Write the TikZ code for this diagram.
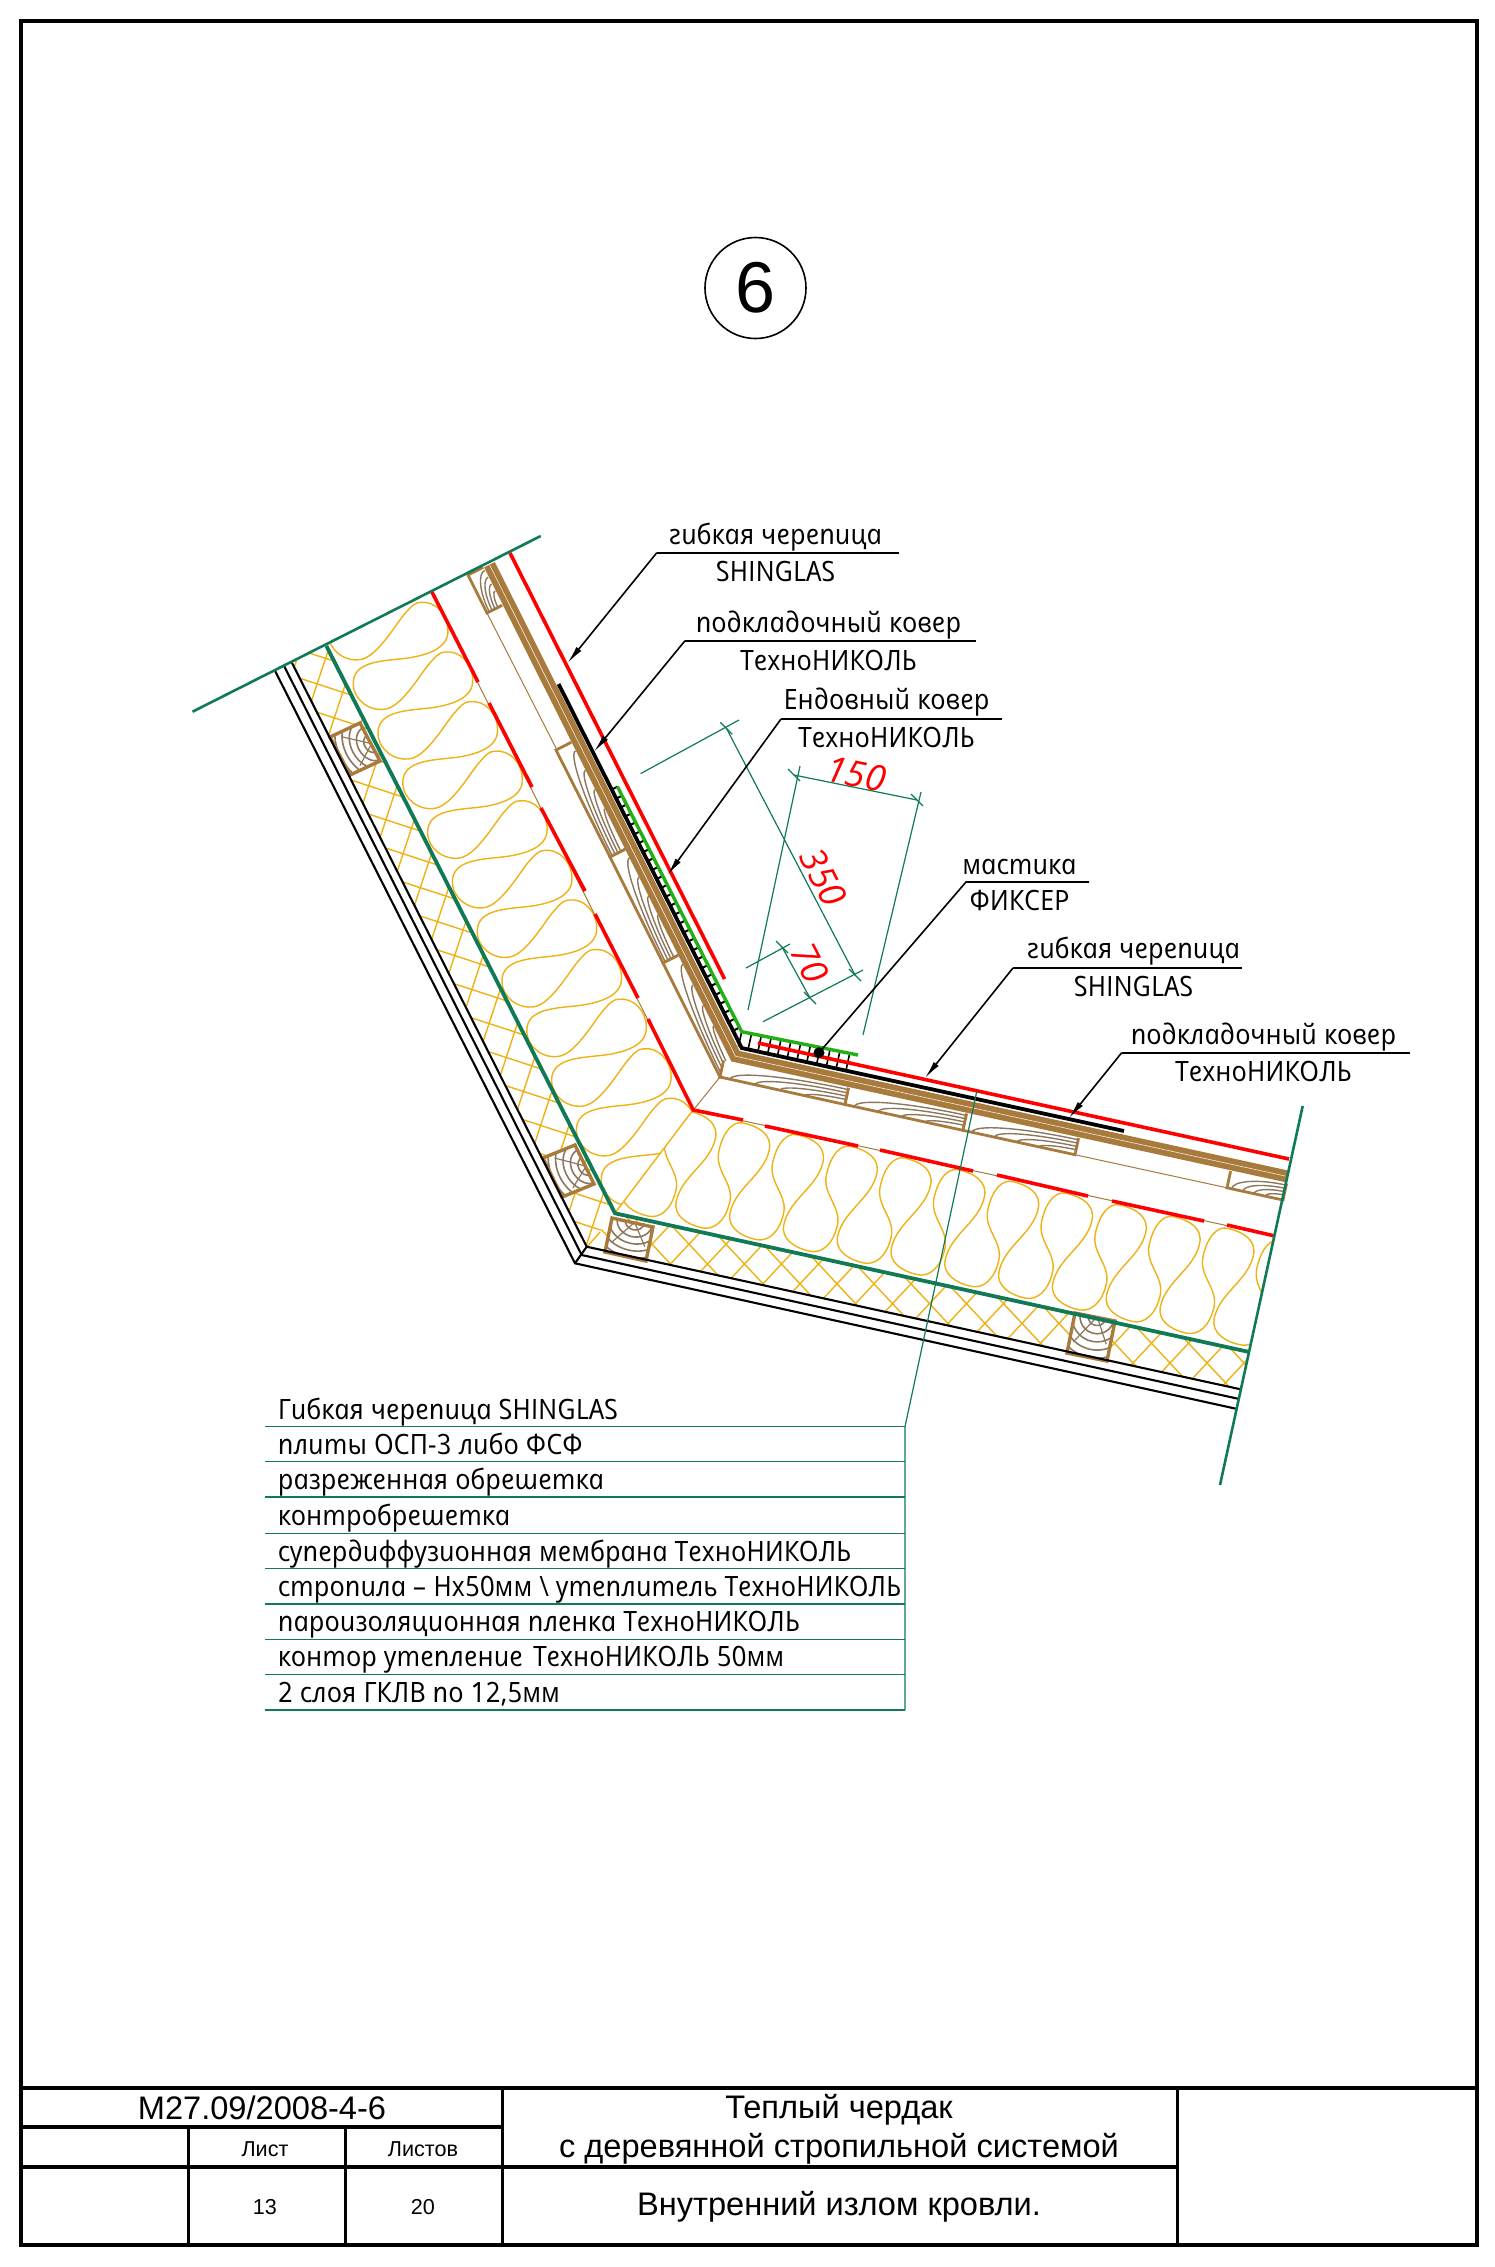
\documentclass[tikz,border=0pt]{standalone}
\usepackage{fontspec}
\setmainfont{Liberation Sans}
\newfontfamily\techbase{Open Sans}[ItalicFeatures={FakeSlant=-0.2,FakeStretch=0.97}]
\newcommand{\tech}{\techbase\itshape}
\newfontfamily\dimfont{Open Sans}
\usetikzlibrary{arrows.meta,calc}
\definecolor{cteal}{RGB}{15,122,85}
\definecolor{cred}{RGB}{255,0,0}
\definecolor{cgreen}{RGB}{34,176,20}
\definecolor{cbrown}{RGB}{168,122,60}
\definecolor{cgrain}{RGB}{140,120,95}
\definecolor{cyel}{RGB}{238,178,20}
\tikzset{
  frameline/.style={line width=1.8pt,black},
  titlerule/.style={line width=2pt,black},
  titlecol/.style={line width=1.5pt,black},
  tealthick/.style={line width=1.9pt,cteal},
  cutline/.style={line width=1.3pt,cteal},
  thinteal/.style={line width=0.6pt,cteal},
  shelfteal/.style={line width=0.7pt,cteal},
  redlayer/.style={line width=1.8pt,cred},
  blacklayer/.style={line width=1.9pt,black},
  gkl/.style={line width=1.05pt,black},
  woolline/.style={line width=0.7pt,cyel},
  hatchline/.style={line width=0.7pt,cyel},
  lath/.style={line width=0.5pt,cbrown},
  woodout/.style={line width=1.4pt,cbrown,fill=white},
  grainline/.style={line width=0.7pt,cgrain},
  leaderarrow/.style={line width=0.8pt,black,-{Latex[length=9pt,width=3.2pt]}},
  shelf/.style={line width=0.8pt,black},
  techtext/.style={font=\tech\fontsize{14}{16}\selectfont,inner sep=0pt},
  listtext/.style={techtext,anchor=base west},
  dimtext/.style={font=\dimfont\itshape\fontsize{18}{20}\selectfont,text=cred,inner sep=0pt},
  titletext/.style={font=\fontsize{16.3}{18}\selectfont,inner sep=0pt},
  smalltext/.style={font=\fontsize{10.8}{12}\selectfont,inner sep=0pt},
}
\newcommand{\battenU}[6]{%
\begin{scope}[shift={(#1,#2)},x={({(#3-#1)*0.5pt},{(#2-#4)*0.5pt})},y={({(#5)*0.5pt},{-(#6)*0.5pt})}]
\draw[woodout] (0,1)--(0,0)--(1,0)--(1,1);
\foreach \r/\q in {.92/.85,.74/.66,.56/.47,.38/.28}
 \draw[grainline] (1-\r,1) .. controls (1-\r,1-.55*\q) and (1-.55*\r,1-\q) .. (1,1-\q);
\end{scope}}
\newcommand{\battenL}[6]{%
\begin{scope}[shift={(#1,#2)},x={({(#3-#1)*0.5pt},{(#2-#4)*0.5pt})},y={({(#5)*0.5pt},{-(#6)*0.5pt})}]
\draw[woodout] (0,1)--(0,0)--(1,0)--(1,1);
\foreach \r/\q in {.92/.9,.72/.7,.52/.5,.32/.3}
 \draw[grainline] (1-\r,0) .. controls (1-\r,.55*\q) and (1-.55*\r,\q) .. (1,\q);
\end{scope}}
\newcommand{\woodblock}[6]{%
\begin{scope}[shift={(#1,#2)},x={({(#3)*0.5pt},{-(#4)*0.5pt})},y={({(#5)*0.5pt},{-(#6)*0.5pt})}]
\fill[white] (0,0)--(1,0)--(1,1)--(0,1)--cycle;
\begin{scope}
\clip (0,0)--(1,0)--(1,1)--(0,1)--cycle;
\foreach \r in {.22,.42,.62,.82,1.02} \draw[grainline,line width=.8pt] (.55,1.02) circle[radius=\r];
\draw[grainline,line width=.6pt] (.55,1.02)--(.1,.3) (.55,1.02)--(.9,.4);
\end{scope}
\draw[line width=1.7pt,cbrown] (0,0)--(1,0)--(1,1)--(0,1)--cycle;
\end{scope}}
\newcommand{\wool}[2]{%
\foreach \k in {#1,...,#2}{
\draw[woolline] (\k,1) .. controls (\k+.32,1) and (\k+.57,.95) .. (\k+.57,.82)
 .. controls (\k+.57,.6) and (\k+.117,.45) .. (\k+.117,.225)
 .. controls (\k+.117,.1) and (\k+.4,.05) .. (\k+.68,.05)
 .. controls (\k+.9,.05) and (\k+1.07,.15) .. (\k+1.07,.32)
 .. controls (\k+1.07,.48) and (\k+.68,.55) .. (\k+.68,.72)
 .. controls (\k+.68,.9) and (\k+.82,1) .. (\k+1,1);
}}
\begin{document}
\begin{tikzpicture}[x=0.5pt,y=-0.5pt]
\useasboundingbox (0,0) rectangle (1495,2267);
\fill[white] (0,0) rectangle (1495,2267);

% ---------- insulation wool, upper slope
\begin{scope}
\clip (432,592)--(693,1110)--(615,1213)--(326,646)--cycle;
\foreach \k in {-3,...,10}{
\begin{scope}[shift={({447.9+24.8*\k},{630+49.6*\k})}]
\draw[woolline] (0,0) .. controls (1,18) and (-20,25) .. (-40,28)
 .. controls (-62,31) and (-94.7,30) .. (-94.7,53.3)
 .. controls (-94.7,70) and (-78,82) .. (-62,79)
 .. controls (-45,76) and (-25,40) .. (-18,33)
 .. controls (-12,26) and (-8,22) .. (-3,22)
 .. controls (12,20) and (24.8,34) .. (24.8,49.6);
\end{scope}}
\end{scope}
% ---------- insulation wool, lower slope
\begin{scope}
\clip (693,1110)--(1275,1236)--(1248,1352)--(615,1213)--cycle;
\begin{scope}[shift={(718.1,1237.3)},x={(26.9pt,-5.85pt)},y={(12.45pt,57.15pt)}]
\wool{-2}{11}
\end{scope}
\end{scope}
\draw[woolline] (693,1110)--(615,1213);

% ---------- cross hatch
\begin{scope}
\clip (291,662)--(326,646)--(615,1213)--(587,1247)--cycle;
\foreach \i in {-2,...,26}
 \draw[hatchline] ({296-8.4*\i-600},{677+25.6*\i-196})--({296-8.4*\i+600},{677+25.6*\i+196});
\foreach \j in {-16,...,16}
 \draw[hatchline] ({325+25.6*\j+250},{660+8.4*\j-760})--({325+25.6*\j-250},{660+8.4*\j+760});
\end{scope}
\begin{scope}
\clip (587,1247)--(615,1213)--(1248,1352)--(1241,1389)--cycle;
\foreach \i in {-19,...,4}{
 \draw[hatchline] ({1170+37*\i-170},{1363-182})--({1170+37*\i+170},{1363+182});
 \draw[hatchline] ({1170+37*\i-170},{1363+182})--({1170+37*\i+170},{1363-182});
}
\end{scope}
\draw[hatchline] (587,1247)--(600,1232);

% ---------- cross-section blocks
\woodblock{330}{737}{20}{38}{30}{-14}
\woodblock{543}{1158}{19}{39}{32}{-13}
\woodblock{605}{1252}{41}{9}{7}{-34}
\woodblock{1067}{1353}{40}{8}{8}{-40}

% ---------- gypsum boards
\draw[gkl] (291.4,661.7)--(586.7,1246.7)--(1240.7,1389.3);
\draw[gkl] (283.6,665)--(581.7,1255)--(1238,1398.7);
\draw[gkl] (274.6,670)--(575,1263.3)--(1236,1408.7);
\draw[gkl] (586.7,1246.7)--(575,1263.3);

% ---------- vapour barrier
\draw[tealthick] (326.4,646)--(615,1213.3)--(1248,1351.7);

% ---------- diffusion membrane
\draw[lath] (431.8,591.7)--(693.3,1110)--(1275,1236);
\draw[lath] (693.3,1110)--(720,1077);
\draw[redlayer] (431.8,591.7)--(478,682);
\draw[redlayer] (489,703)--(532,787);
\draw[redlayer] (541,808)--(585,891);
\draw[redlayer] (595,914)--(638,998);
\draw[redlayer,line join=miter] (648,1019)--(693.3,1110)--(743,1120);
\draw[redlayer] (765,1126)--(858,1146);
\draw[redlayer] (880,1150)--(973,1171);
\draw[redlayer] (997,1175)--(1088,1196);
\draw[redlayer] (1112,1201)--(1204,1221);
\draw[redlayer] (1227,1225)--(1275,1236);

% ---------- battens and lath
\draw[lath] (487,613)--(557,750);
\draw[lath] (1075,1154.7)--(1227,1187.8);
\battenU{468}{575}{487}{613}{15.2}{-7.7}
\battenU{556}{750}{610}{857}{15.2}{-7.7}
\battenU{610}{857}{663}{963}{15.2}{-7.7}
\battenU{663}{963}{720}{1077}{15.2}{-7.7}
\battenL{720}{1077}{845}{1104.5}{3.6}{-16.6}
\battenL{845}{1104.5}{963}{1130.3}{3.6}{-16.6}
\battenL{963}{1130.3}{1075}{1154.7}{3.6}{-16.6}
\battenL{1227}{1187.8}{1283}{1200}{3.6}{-16.6}

% ---------- boards
\draw[line width=6pt,cbrown,line join=miter] (489.5,564.7)--(735.5,1056.2)--(1288,1176.6);
\draw[line width=0.3pt,white!85!cbrown] (489.5,564.7)--(735.5,1056.2)--(1288,1176.6);

% ---------- underlay, valley carpet, shingle
\foreach \i in {0,...,27} \draw[line width=1pt,black] ({617.5+4.52*\i},{786.7+8.92*\i})--+(-5.4,2.7);
\foreach \i in {0,...,11} \draw[line width=0.8pt,black] ({741.7+9.8*\i},{1031.7+2.05*\i})--+(-3.2,14.7);
\draw[blacklayer] (558.6,684)--(741.7,1048)--(1124,1131);
\draw[redlayer] (510,553)--(724.6,979);
\draw[redlayer] (758,1043)--(1289,1159);
\draw[line width=1.7pt,cgreen] (617.5,786.7)--(741.7,1031.7)--(858,1055);

% ---------- cut lines
\coordinate (cutAa) at (192.5,711.7); \coordinate (cutAb) at (540.7,536);
\coordinate (cutBa) at (1302.7,1106); \coordinate (cutBb) at (1220,1485);
\draw[cutline] (cutAa)--(cutAb);
\draw[cutline] (cutBa)--(cutBb);

% ---------- dimensions
\coordinate (e1a) at (640.6,773.6); \coordinate (e1b) at (739,720);
\coordinate (d350a) at (726.4,728.3); \coordinate (d350b) at (855,975);
\coordinate (e2a) at (763,1021.7); \coordinate (e2b) at (863,970);
\coordinate (e3a) at (800,766); \coordinate (e3b) at (748,1010);
\coordinate (e4a) at (921,792); \coordinate (e4b) at (863,1035);
\coordinate (d150a) at (794,775); \coordinate (d150b) at (917,800);
\coordinate (e5a) at (746,968); \coordinate (e5b) at (790,944);
\coordinate (d70a) at (782,947); \coordinate (d70b) at (810,998);
\draw[thinteal] (e1a)--(e1b) (d350a)--(d350b) (e2a)--(e2b) (e3a)--(e3b) (e4a)--(e4b) (d150a)--(d150b) (e5a)--(e5b) (d70a)--(d70b);
\foreach \c in {d350a,d350b,d150a,d150b,d70a,d70b}
 \draw[thinteal] ($(\c)+(-6,-6)$)--($(\c)+(6,6)$);
\node[dimtext,rotate=-63] (t350) at (823,877) {350};
\node[dimtext,rotate=-12] (t150) at (856,774) {150};
\node[dimtext,rotate=-63] (t70) at (810,963) {70};

% ---------- list leader
\coordinate (listtop) at (905,1426.7);
\coordinate (listbot) at (905,1710);
\coordinate (leadtop) at (976.7,1091.7);
\draw[thinteal] (leadtop)--(listtop)--(listbot);
\foreach \y in {1426.7,1461.7,1497,1533.3,1568.7,1604,1639.3,1674.3,1710}
 \draw[shelfteal] (265.4,\y)--(905,\y);
\node[listtext] (l1) at (279,1419.3) {Гибкая черепица SHINGLAS};
\node[listtext] (l2) at (279,1454.3) {плиты ОСП-3 либо ФСФ};
\node[listtext] (l3) at (279,1489.6) {разреженная обрешетка};
\node[listtext] (l4) at (279,1525.9) {контробрешетка};
\node[listtext] (l5) at (279,1561.3) {супердиффузионная мембрана ТехноНИКОЛЬ};
\node[listtext] (l6) at (279,1596.6) {стропила – Нх50мм \textbackslash{} утеплитель ТехноНИКОЛЬ};
\node[listtext] (l7) at (279,1631.9) {пароизоляционная пленка ТехноНИКОЛЬ};
\node[listtext] (l8) at (279,1666.9) {контор утепление\hspace{5pt}ТехноНИКОЛЬ 50мм};
\node[listtext] (l9) at (279,1702.6) {2 слоя ГКЛВ по 12,5мм};

% ---------- callouts
\coordinate (s1a) at (656.8,552.7); \coordinate (s1b) at (899,552.7); \coordinate (s1t) at (567.5,663);
\draw[shelf] (s1b)--(s1a); \draw[leaderarrow] (s1a)--(s1t);
\node[techtext] (c1a) at (777,537) {гибкая черепица};
\node[techtext] (c1b) at (777,571) {SHINGLAS};
\coordinate (s2a) at (685,640.7); \coordinate (s2b) at (976,640.7); \coordinate (s2t) at (594,751.7);
\draw[shelf] (s2b)--(s2a); \draw[leaderarrow] (s2a)--(s2t);
\node[techtext] (c2a) at (830,625) {подкладочный ковер};
\node[techtext] (c2b) at (830,660) {ТехноНИКОЛЬ};
\coordinate (s3a) at (781,719); \coordinate (s3b) at (1002,719); \coordinate (s3t) at (667.5,875);
\draw[shelf] (s3b)--(s3a); \draw[leaderarrow] (s3a)--(s3t);
\node[techtext] (c3a) at (888,702) {Ендовный ковер};
\node[techtext] (c3b) at (888,737) {ТехноНИКОЛЬ};
\coordinate (s4a) at (966,882); \coordinate (s4b) at (1089,882); \coordinate (s4t) at (819,1052.7);
\draw[shelf] (s4b)--(s4a)--(s4t);
\fill[black] (s4t) circle[radius=5.5];
\node[techtext] (c4a) at (1021,867) {мастика};
\node[techtext] (c4b) at (1021,900) {ФИКСЕР};
\coordinate (s5a) at (1013,968); \coordinate (s5b) at (1242,968); \coordinate (s5t) at (925,1078);
\draw[shelf] (s5b)--(s5a); \draw[leaderarrow] (s5a)--(s5t);
\node[techtext] (c5a) at (1135,951) {гибкая черепица};
\node[techtext] (c5b) at (1135,986) {SHINGLAS};
\coordinate (s6a) at (1121.7,1052.7); \coordinate (s6b) at (1410,1052.7); \coordinate (s6t) at (1069,1118);
\draw[shelf] (s6b)--(s6a); \draw[leaderarrow] (s6a)--(s6t);
\node[techtext] (c6a) at (1265,1037) {подкладочный ковер};
\node[techtext] (c6b) at (1265,1071) {ТехноНИКОЛЬ};

% ---------- number circle
\node[draw=black,line width=0.8pt,circle,minimum size=50.5pt,inner sep=0pt,font=\fontsize{36}{40}\selectfont] (num) at (755.5,288) {6};

% ---------- frame and title block
\draw[frameline] (21,21) rectangle (1477,2245);
\draw[titlerule] (21,2088)--(1477,2088);
\draw[titlerule] (21,2127)--(502,2127);
\draw[titlerule] (21,2167)--(1177,2167);
\draw[titlecol] (188,2127)--(188,2245) (345,2127)--(345,2245);
\draw[titlecol] (502,2088)--(502,2245) (1177,2088)--(1177,2245);
\node[titletext] (b1) at (262,2108) {М27.09/2008-4-6};
\node[titletext] (b2) at (839,2110) {Теплый чердак};
\node[titletext] (b3) at (839,2149) {с деревянной стропильной системой};
\node[titletext] (b4) at (839,2207) {Внутренний излом кровли.};
\node[smalltext] (b5) at (265,2149) {Лист};
\node[smalltext] (b6) at (423,2149) {Листов};
\node[smalltext] (b7) at (265,2207) {13};
\node[smalltext] (b8) at (423,2207) {20};
\end{tikzpicture}
\end{document}
